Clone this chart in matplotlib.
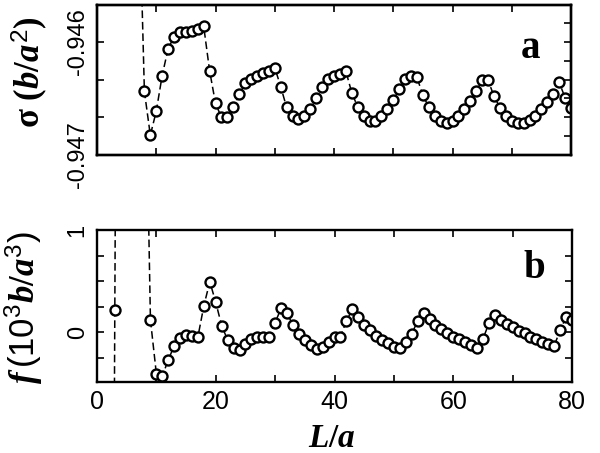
import matplotlib
matplotlib.use("Agg")
from matplotlib import pyplot as plt

plt.rcParams["font.family"] = ["Liberation Sans", "DejaVu Sans"]
plt.rcParams["mathtext.fontset"] = "custom"
plt.rcParams["mathtext.rm"] = "Liberation Serif:bold"
plt.rcParams["mathtext.it"] = "Liberation Serif:italic:bold"
plt.rcParams["mathtext.bf"] = "Liberation Serif:bold"
plt.rcParams["mathtext.sf"] = "Liberation Sans"

# panel a: surface tension sigma (b/a^2) vs L/a
L_sigma = list(range(7, 81))
sigma = [
    -0.94447, -0.946439, -0.946825, -0.946614, -0.946298, -0.946061, -0.945956,
    -0.945912, -0.945912, -0.945904, -0.945886, -0.945860, -0.946254, -0.946544,
    -0.946667, -0.946667, -0.946579, -0.946465, -0.946368, -0.946325, -0.946298,
    -0.946272, -0.946254, -0.946228, -0.946395, -0.946579, -0.946658, -0.946684,
    -0.946655, -0.946596, -0.946500, -0.946398, -0.946333, -0.946304, -0.946281,
    -0.946260, -0.946450, -0.946576, -0.946655, -0.946699, -0.946699, -0.946655,
    -0.946596, -0.946515, -0.946421, -0.946333, -0.946304, -0.946313, -0.946474,
    -0.946576, -0.946655, -0.946699, -0.946719, -0.946699, -0.946655, -0.946596,
    -0.946524, -0.946436, -0.946339, -0.946339, -0.946480, -0.946581, -0.946655,
    -0.946699, -0.946719, -0.946719, -0.946690, -0.946655, -0.946596, -0.946532,
    -0.946459, -0.946357, -0.946494, -0.946581,
]

# panel b: force f (10^3 b/a^3) vs L/a
L_f = list(range(2, 81))
force = [
    -12.0, 0.216, 12.0, 9.0, 6.0, 4.5, 3.3, 0.118, -0.41, -0.43, -0.275, -0.134,
    -0.062, -0.029, -0.039, -0.046, 0.258, 0.493, 0.291, 0.062, -0.078, -0.160,
    -0.176, -0.121, -0.072, -0.046, -0.046, -0.046, 0.092, 0.232, 0.183, 0.069,
    -0.020, -0.078, -0.127, -0.167, -0.144, -0.095, -0.046, -0.046, 0.108, 0.222,
    0.144, 0.069, 0.020, -0.039, -0.078, -0.111, -0.144, -0.160, -0.095, -0.023,
    0.111, 0.189, 0.127, 0.069, 0.026, -0.013, -0.046, -0.072, -0.101, -0.127,
    -0.160, -0.069, 0.085, 0.167, 0.118, 0.078, 0.046, 0.013, -0.013, -0.046,
    -0.069, -0.095, -0.118, -0.137, 0.020, 0.144, 0.118,
]

x_ticks = list(range(0, 81, 10))
x_labels = ["0", "", "20", "", "40", "", "60", "", "80"]
sig_left = [-0.947, -0.947 + 1 / 3 * 1e-3, -0.947 + 2 / 3 * 1e-3, -0.946]
sig_left_labels = ["-0.947", "", "", "-0.946"]
sig_right = [-0.947 + k / 6 * 1e-3 for k in range(0, 8)]
f_ticks = [-0.25, 0, 0.25, 0.5, 0.75, 1.0]
f_labels = ["", "0", "", "", "", "1"]

fig = plt.figure(figsize=(6.0, 4.53), dpi=100)
ax1 = fig.add_axes([97 / 600, 1 - 155 / 453, 474 / 600, 150 / 453])
ax2 = fig.add_axes([97 / 600, 1 - 382 / 453, 475 / 600, 152 / 453])

style = dict(color="black", lw=1.1, dashes=(5, 2.5), marker="o", ms=7.2,
             mfc="white", mec="black", mew=1.7)
ax1.plot(L_sigma, sigma, **style)
ax2.plot(L_f, force, **style)

for ax in (ax1, ax2):
    ax.set_xlim(0, 80)
    ax.set_xticks(x_ticks)
    for s in ax.spines.values():
        s.set_linewidth(1.7)
    ax.tick_params(direction="in", length=5, width=1.2, top=True,
                   labelsize=16, pad=6)

ax1.set_xticklabels([])
ax1.set_ylim(-0.94700, -0.945675)
ax1.set_yticks(sig_left)
ax1.set_yticklabels(sig_left_labels, rotation=90, va="center", fontsize=17)
tw = ax1.twinx()
tw.set_ylim(ax1.get_ylim())
tw.set_yticks(sig_right)
tw.set_yticklabels([])
tw.tick_params(direction="in", length=5, width=1.2)
for s in tw.spines.values():
    s.set_linewidth(1.7)

ax2.set_xticklabels(x_labels, fontsize=18)
ax2.set_ylim(-0.49, 1.0)
ax2.set_yticks(f_ticks)
ax2.set_yticklabels(f_labels, rotation=90, va="center", fontsize=17)
ax2.tick_params(right=True)

ax1.set_ylabel(r"$\mathbf{\sigma\ (}b/a^{\mathsf{2}}\mathbf{)}$", fontsize=25)
ax1.yaxis.set_label_coords(-0.10, 0.55)
ax2.set_ylabel(r"$f\,\mathsf{(10^{3}}b/a^{\mathsf{3}}\mathsf{)}$", fontsize=25)
ax2.yaxis.set_label_coords(-0.11, 0.49)
ax2.set_xlabel(r"$L/a$", fontsize=24)
ax2.xaxis.set_label_coords(0.495, -0.27)

ax1.text(0.915, 0.71, "a", transform=ax1.transAxes, ha="center", va="center",
         fontsize=28, fontweight="bold", family="Liberation Serif")
ax2.text(0.92, 0.75, "b", transform=ax2.transAxes, ha="center", va="center",
         fontsize=28, fontweight="bold", family="Liberation Serif")

fig.savefig("out.png", dpi=100)
